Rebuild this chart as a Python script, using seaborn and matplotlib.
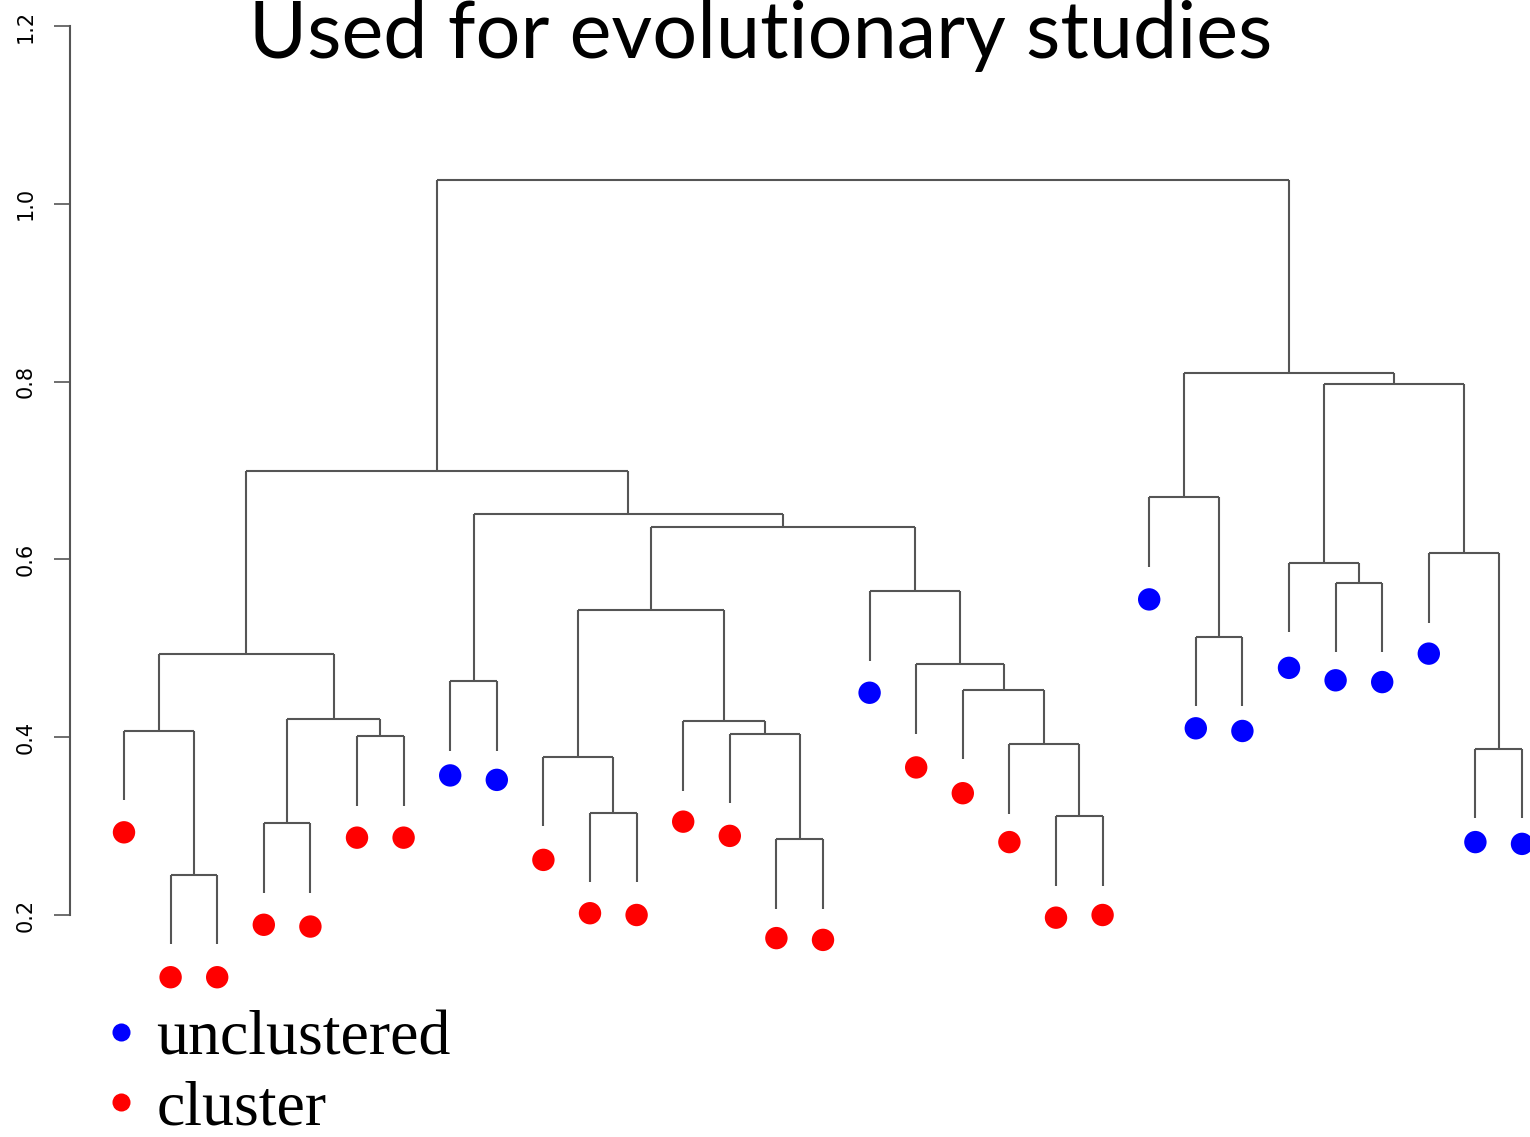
import numpy as np
import pandas as pd
import matplotlib
matplotlib.use("Agg")
import matplotlib.pyplot as plt
import seaborn as sns
from matplotlib.lines import Line2D

# ---------------- data ----------------
title = "Used for evolutionary studies"
leaf_groups = (["cluster"] * 7 + ["unclustered"] * 2 + ["cluster"] * 7 +
               ["unclustered"] + ["cluster"] * 5 + ["unclustered"] * 9)
# height at which each leaf marker sits
leaf_marker_height = [0.293, 0.130, 0.130, 0.189, 0.187, 0.287, 0.287,
                      0.357, 0.352, 0.262, 0.202, 0.200, 0.305, 0.289,
                      0.174, 0.172, 0.450, 0.366, 0.337, 0.282, 0.197,
                      0.200, 0.555, 0.410, 0.407, 0.478, 0.464, 0.462,
                      0.494, 0.282, 0.280]
# R-style merge table: negative = leaf (1-based), positive = earlier merge row (1-based)
merge_left = [-2, -1, -4, -6, 3, 2, -8, -11, -10, -15, -14, -13, 9, -21, -20,
              -19, -18, -17, 13, 7, 6, -24, -23, -27, -26, -30, -29, 25, 23, 21]
merge_right = [-3, 1, -5, -7, 4, 5, -9, -12, 8, -16, 10, 11, 12, -22, 14,
               15, 16, 17, 18, 19, 20, -25, 22, -28, 24, -31, 26, 27, 28, 29]
merge_height = [0.245, 0.407, 0.303, 0.401, 0.421, 0.494, 0.463, 0.315, 0.378,
                0.285, 0.404, 0.418, 0.543, 0.311, 0.392, 0.453, 0.482, 0.564,
                0.636, 0.651, 0.699, 0.513, 0.670, 0.574, 0.596, 0.387, 0.607,
                0.797, 0.810, 1.027]
y_ticks = [0.2, 0.4, 0.6, 0.8, 1.0, 1.2]
y_tick_labels = ["0.2", "0.4", "0.6", "0.8", "1.0", "1.2"]
legend_labels = ["unclustered", "cluster"]
palette = {"unclustered": "#0000FF", "cluster": "#FF0000"}

hang = 0.078        # leaf line length below parent

# ---------------- layout ----------------
W, H, DPI = 1530, 1137, 100
sns.set_theme(style="white")
plt.rcParams["font.family"] = ["DejaVu Sans"]
plt.rcParams["text.color"] = "black"
fig = plt.figure(figsize=(W / DPI, H / DPI), dpi=DPI)
fig.patch.set_facecolor("white")

ax_left_px = 70
ax = fig.add_axes([ax_left_px / W, 0, 1 - ax_left_px / W, 1])
step = 46.6
x0_px = 124
ax.set_xlim((ax_left_px - x0_px) / step, (W - x0_px) / step)
px_per_unit = (915 - 26) / 1.0
ax.set_ylim(0.2 - (H - 915) / px_per_unit, 1.2 + 26 / px_per_unit)

# ---------------- dendrogram geometry ----------------
n_leaves = len(leaf_groups)
node_x = {}
node_h = {}
seg_x, seg_y = [], []

def child_info(c):
    if c < 0:
        i = -c - 1
        return float(i), None, i
    return node_x[c], node_h[c], None

for r, (a, b, h) in enumerate(zip(merge_left, merge_right, merge_height), start=1):
    xa, ha, la = child_info(a)
    xb, hb, lb = child_info(b)
    node_x[r] = (xa + xb) / 2
    node_h[r] = h
    seg_x.append((xa, xb)); seg_y.append((h, h))
    for xc, hc, lc in ((xa, ha, la), (xb, hb, lb)):
        bottom = h - hang if lc is not None else hc
        seg_x.append((xc, xc)); seg_y.append((h, bottom))

for sx, sy in zip(seg_x, seg_y):
    ax.plot(sx, sy, color="#555555", lw=1.5, solid_capstyle="butt", zorder=1)

leaves = pd.DataFrame({
    "x": np.arange(n_leaves, dtype=float),
    "y": leaf_marker_height,
    "group": leaf_groups,
})
sns.scatterplot(data=leaves, x="x", y="y", hue="group", palette=palette,
                s=260, linewidth=0, legend=False, ax=ax, zorder=3, clip_on=False)

# ---------------- axes styling ----------------
for side in ("top", "right", "bottom"):
    ax.spines[side].set_visible(False)
ax.spines["left"].set_bounds(0.2, 1.2)
ax.spines["left"].set_color("#555555")
ax.spines["left"].set_linewidth(1.5)
ax.set_yticks(y_ticks)
ax.set_yticklabels(y_tick_labels, rotation=90, va="center", fontsize=15,
                   color="black")
ax.tick_params(axis="y", left=True, length=11.5, width=1.2, color="#555555", pad=13)
ax.set_xticks([])
ax.set_xlabel("")
ax.set_ylabel("")
ax.patch.set_alpha(0)

# ---------------- title ----------------
fig.text(761 / W, 1 - 58 / H, title, ha="center", va="baseline",
         fontsize=57, family=["Lato", "DejaVu Sans"], color="black")

# ---------------- legend ----------------
handles = [Line2D([0], [0], marker="o", linestyle="", markersize=13,
                  markerfacecolor=palette[l], markeredgewidth=0) for l in legend_labels]
leg = fig.legend(handles, legend_labels, loc="upper left",
                 bbox_to_anchor=(102 / W, 1 - 1010 / H), frameon=False,
                 prop={"family": ["Liberation Serif", "DejaVu Serif"], "size": 46},
                 handlelength=0.6, handletextpad=0.25, labelspacing=0.17,
                 borderpad=0, borderaxespad=0)
for t in leg.get_texts():
    t.set_color("black")

fig.savefig("out.png", dpi=DPI, facecolor="white")
